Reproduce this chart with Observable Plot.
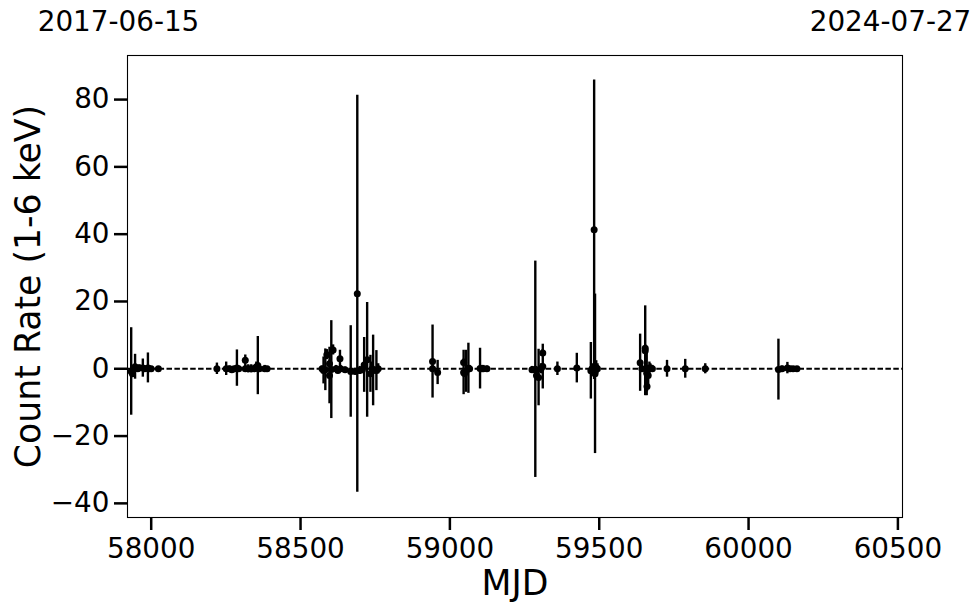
<!DOCTYPE html>
<html>
<head>
<meta charset="utf-8">
<script src="https://cdn.jsdelivr.net/npm/d3@7"></script>
<script src="https://cdn.jsdelivr.net/npm/@observablehq/plot@0.6"></script>
<style>
  html, body { margin: 0; padding: 0; background: #fff; }
</style>
</head>
<body>
<div id="chart"></div>
<script>
// Observation epochs (MJD), count rates (1-6 keV) and 1-sigma errors
const mjd = [
  57933, 57937, 57946, 57955, 57960, 57972, 57978, 57989, 57993, 58000, 58024,
  58220, 58251, 58262, 58270, 58278, 58287, 58293, 58315, 58315, 58325, 58335, 58345, 58352, 58357, 58362, 58380, 58388,
  58572, 58577, 58583, 58588, 58597, 58597, 58603, 58609, 58619, 58625, 58632, 58634, 58649, 58668, 58683, 58690, 58698, 58707, 58713, 58723, 58734, 58740, 58743, 58754, 58760,
  58942, 58942, 58959,
  59046, 59046, 59049, 59054, 59062, 59066, 59101, 59106, 59112, 59124,
  59275, 59286, 59290, 59297, 59305, 59311, 59311, 59360, 59425,
  59472, 59476, 59483, 59486, 59490, 59494,
  59637, 59643, 59654, 59654, 59659, 59660, 59664, 59668, 59671, 59678, 59727, 59788, 59855,
  60100, 60112, 60130, 60139, 60149, 60162
];
const rate = [
  -0.8, -1.5, 0.6, 0.0, 0.3, 0.2, 0.0, 0.25, 0.0, 0.0, 0.0,
  0.0, 0.0, 0.0, -0.3, 0.0, 0.2, 0.0, 2.5, 0.0, 0.0, 0.0, 0.0, 0.5, 0.95, 0.0, 0.0, 0.0,
  0.0, -0.5, -0.3, 4.2, -2.0, 1.5, -0.25, 5.6, 0.0, -0.5, 3.0, 0.0, -0.3, -0.8, -0.8, 22.3, -0.5, -0.3, 1.15, 2.65, -1.5, 0.0, -0.5, -0.55, 0.0,
  2.15, 0.0, -1.1,
  -1.1, 1.9, -1.4, -0.75, 0.15, 0.0, 0.05, 0.0, 0.0, 0.0,
  -0.3, -0.15, -2.0, -2.6, 0.0, 0.65, 4.7, 0.0, 0.2,
  -0.6, 0.0, 41.3, -1.5, 0.4, 0.0,
  1.8, 0.0, 5.35, 6.1, -1.3, -5.3, -2.0, 0.0, 0.3, 0.0, 0.0, 0.0, 0.0,
  -0.25, 0.0, 0.2, 0.0, 0.0, 0.0
];
const err = [
  13.0, 1.0, 3.7, 1.0, 0.8, 2.7, 0.8, 4.45, 1.0, 0.6, 0.3,
  1.7, 2.0, 0.8, 1.0, 0.7, 5.4, 0.5, 1.6, 1.0, 1.2, 1.2, 1.0, 1.5, 8.65, 1.0, 1.0, 0.6,
  0.8, 4.0, 6.2, 1.5, 8.4, 1.0, 14.55, 1.5, 1.0, 1.0, 2.5, 1.0, 0.8, 13.6, 1.0, 59.0, 1.2, 1.0, 8.15, 17.05, 5.5, 2.0, 10.5, 5.95, 1.5,
  10.85, 1.0, 3.6,
  6.6, 1.0, 1.0, 6.25, 7.45, 1.0, 6.05, 1.0, 1.0, 0.8,
  1.0, 32.15, 1.0, 8.4, 1.5, 6.65, 1.0, 2.0, 4.4,
  8.4, 1.5, 44.5, 23.7, 2.0, 1.5,
  8.5, 1.0, 13.35, 1.0, 6.7, 1.5, 3.0, 2.0, 1.2, 1.0, 2.5, 2.8, 1.5,
  9.05, 0.8, 1.7, 0.7, 0.6, 0.5
];
const xTicks = [58000, 58500, 59000, 59500, 60000, 60500];
const yTicks = [-40, -20, 0, 20, 40, 60, 80];
const startLabel = "2017-06-15";
const endLabel = "2024-07-27";
const xLabel = "MJD";
const yLabel = "Count Rate (1-6 keV)";

const data = mjd.map((m, i) => ({mjd: m, rate: rate[i], lo: rate[i] - err[i], hi: rate[i] + err[i]}));

const font = "DejaVu Sans, Liberation Sans, sans-serif";

const chart = Plot.plot({
  width: 980,
  height: 613,
  marginLeft: 127,
  marginRight: 78,
  marginTop: 55,
  marginBottom: 96,
  style: {fontFamily: font, background: "#fff", color: "#000", overflow: "visible"},
  x: {domain: [57920.65, 60515.4]},
  y: {domain: [-44.2, 93.1]},
  marks: [
    Plot.ruleY([0], {stroke: "#000", strokeWidth: 1.8, strokeDasharray: "5.5,2.4"}),
    Plot.ruleX(data, {x: "mjd", y1: "lo", y2: "hi", stroke: "#000", strokeWidth: 2.4}),
    Plot.dot(data, {x: "mjd", y: "rate", r: 3.5, fill: "#000", stroke: "none"}),
    Plot.frame({stroke: "#000", strokeWidth: 1.1}),
    Plot.axisX({ticks: xTicks, tickSize: 13, tickPadding: 8, strokeWidth: 2.5, fontSize: 27.8, label: null, tickFormat: d => String(d)}),
    Plot.axisY({ticks: yTicks, tickSize: 13, tickPadding: 5, strokeWidth: 2.5, fontSize: 27.8, label: null}),
    Plot.text([xLabel], {frameAnchor: "bottom", lineAnchor: "middle", textAnchor: "middle", dy: 66, fontSize: 34.7, fill: "#000"}),
    Plot.text([yLabel], {frameAnchor: "left", lineAnchor: "middle", textAnchor: "middle", dx: -99, rotate: -90, fontSize: 34.7, fill: "#000"}),
    Plot.text([startLabel], {frameAnchor: "top-left", lineAnchor: "middle", textAnchor: "middle", dx: -9, dy: -33, fontSize: 27.8, fill: "#000"}),
    Plot.text([endLabel], {frameAnchor: "top-right", lineAnchor: "middle", textAnchor: "middle", dx: -12, dy: -33, fontSize: 27.8, fill: "#000"})
  ]
});
document.getElementById("chart").appendChild(chart);
</script>
</body>
</html>
